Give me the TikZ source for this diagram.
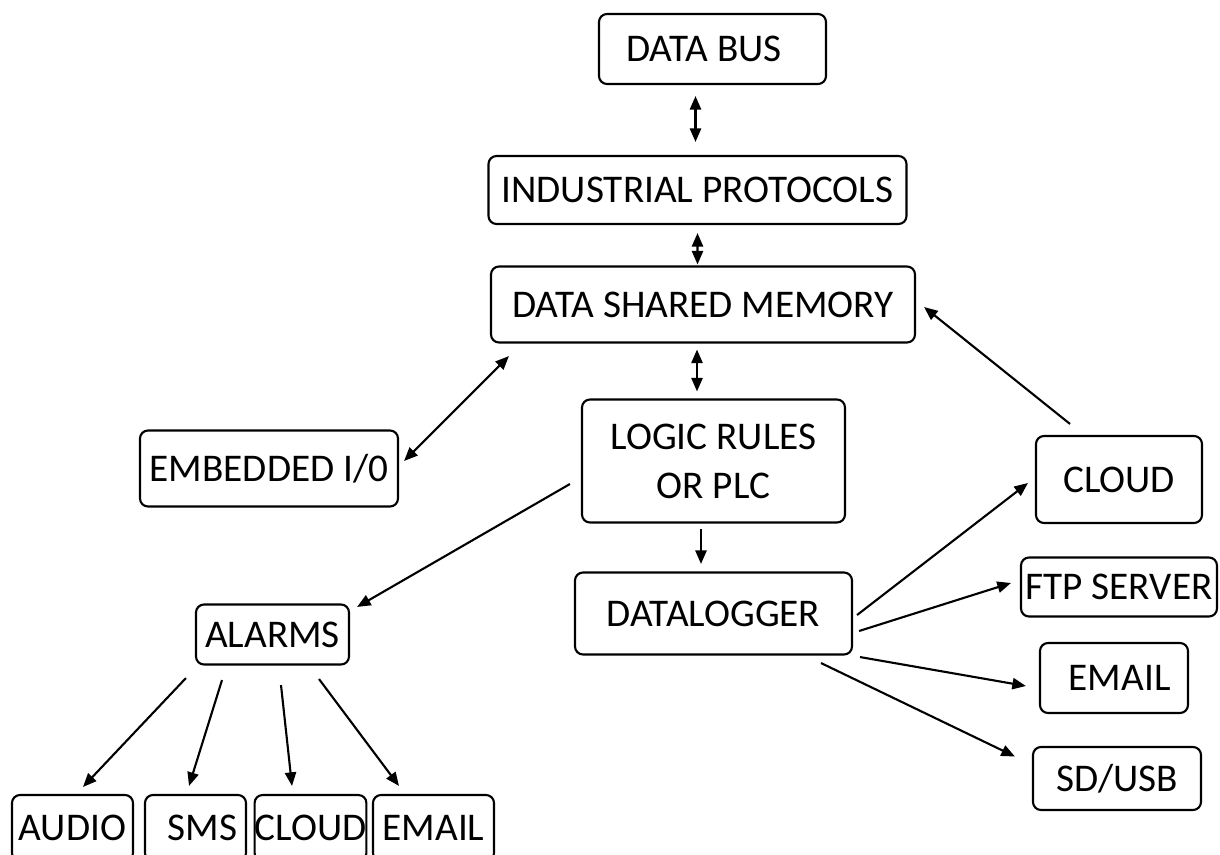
\documentclass[tikz,border=0pt]{standalone}
\usepackage{fontspec}
\setmainfont{Carlito}
\usetikzlibrary{arrows.meta}

\tikzset{
  box/.style={draw, rounded corners=0.2cm, line width=1.5pt, inner sep=0pt,
              align=center, font=\fontsize{27.9}{34.9}\selectfont},
  dims/.style 2 args={minimum width=#1*0.025cm, minimum height=#2*0.025cm},
  link/.style={line width=1.5pt, >={Triangle[length=0.34cm,width=0.28cm]}}
}

\begin{document}
\begin{tikzpicture}[x=0.025cm, y=-0.025cm]
\useasboundingbox (0,0) rectangle (1220,854);

% middle column
\node[box, dims={227}{70}] (bus) at (712.5,49) {DATA BUS\hspace{12pt}};
\node[box, dims={418}{68}] (proto) at (697.5,190) {INDUSTRIAL PROTOCOLS};
\node[box, dims={424}{76}] (mem) at (703,304.5) {DATA SHARED MEMORY};
\node[box, dims={263}{123}] (plc) at (713.5,461) {LOGIC RULES\\OR PLC};
\node[box, dims={277}{82}] (logger) at (713.5,613.5) {DATALOGGER};

% left side
\node[box, dims={258}{76}] (io) at (269,468.5) {EMBEDDED I/0};
\node[box, dims={153}{60}] (alarms) at (272.5,634.5) {ALARMS};
\node[box, dims={121}{66}] (audio) at (72.5,828) {AUDIO};
\node[box, dims={101}{66}] (sms) at (195.5,828) {\hspace{10pt}SMS};
\node[box, dims={111}{66}] (acloud) at (310.5,828) {CLOUD};
\node[box, dims={121}{66}] (amail) at (433.5,828) {EMAIL};

% right side
\node[box, dims={166}{87}] (cloud) at (1119,479.5) {CLOUD};
\node[box, dims={196}{59}] (ftp) at (1119,587) {FTP SERVER};
\node[box, dims={148}{70}] (mail) at (1114,678) {\hspace{8pt}EMAIL};
\node[box, dims={168}{63}] (sd) at (1117,778.5) {SD/USB};

% connectors
\draw[link, <->] ([shift={(-17,11)}]bus.south) -- ([shift={(-2,-13)}]proto.north);
\draw[link, <->] ([shift={(0,8)}]proto.south) -- ([shift={(-5.5,-1)}]mem.north);
\draw[link, <->] ([shift={(-6,6)}]mem.south) -- ([shift={(-16.5,-7)}]plc.north);
\draw[link, <->] ([shift={(19,12.5)}]mem.south west) -- ([shift={(5,-7.5)}]io.east);
\draw[link, ->] ([shift={(-11,23)}]plc.west) -- ([shift={(7,3.5)}]alarms.north east);
\draw[link, ->] ([shift={(-12.5,5.5)}]plc.south) -- ([shift={(-12.5,-7.5)}]logger.north);
\draw[link, ->] ([shift={(-49,-11)}]cloud.north) -- ([shift={(8,2.5)}]mem.east);

\draw[link, ->] ([shift={(4,1.5)}]logger.east) -- ([shift={(-7,3.5)}]cloud.west);
\draw[link, ->] ([shift={(6,17.5)}]logger.east) -- ([shift={(-9,-4)}]ftp.west);
\draw[link, ->] ([shift={(7,1.5)}]logger.south east) -- ([shift={(-13,8)}]mail.west);
\draw[link, ->] ([shift={(-32,7.5)}]logger.south east) -- ([shift={(-17,-22)}]sd.west);

\draw[link, ->] ([shift={(-9,12.5)}]alarms.south west) -- ([shift={(10.5,-7)}]audio.north);
\draw[link, ->] ([shift={(-50.5,14.5)}]alarms.south) -- ([shift={(-6.5,-8)}]sms.north);
\draw[link, ->] ([shift={(8.5,19.5)}]alarms.south) -- ([shift={(-18.5,-8)}]acloud.north);
\draw[link, ->] ([shift={(46.5,13.5)}]alarms.south) -- ([shift={(-34.5,-8)}]amail.north);
\end{tikzpicture}
\end{document}
